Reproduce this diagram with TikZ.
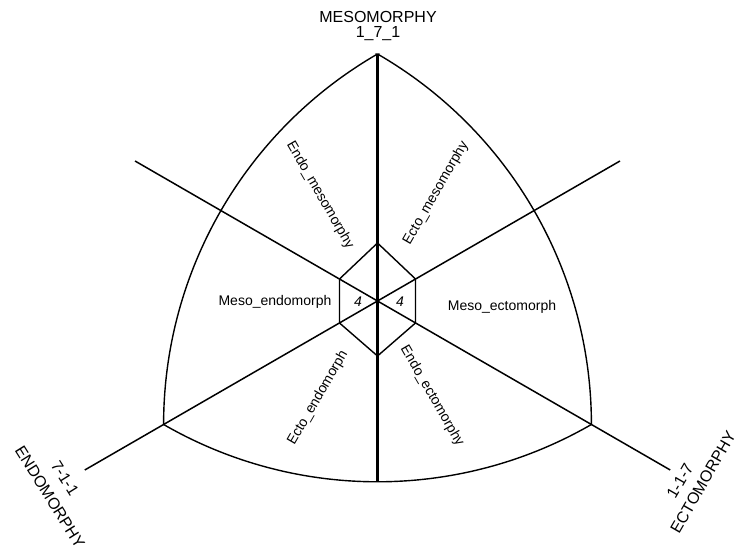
\documentclass[tikz,border=0pt]{standalone}
\usepackage{fontspec}
\setmainfont{Liberation Sans}
\usetikzlibrary{calc}
\begin{document}
\begin{tikzpicture}[x=1pt,y=1pt,
  axis/.style={line width=1.5pt},
  vaxis/.style={line width=2.2pt},
  outline/.style={line width=1.4pt},
  hexline/.style={line width=1.4pt, line join=miter},
  big/.style={font=\fontsize{16}{16}\selectfont, inner sep=0pt},
  small/.style={font=\fontsize{14}{14}\selectfont, inner sep=0pt},
]
\useasboundingbox (0,0) rectangle (739,553);
% geometry
\coordinate (C) at (377.5,252);
\coordinate (T) at ($(C)+(90:247)$);
\coordinate (L) at ($(C)+(210:247)$);
\coordinate (R) at ($(C)+(330:247)$);
\coordinate (B) at ($(T)+(270:427.8)$);
\coordinate (UL) at ($(C)+(150:280)$);
\coordinate (UR) at ($(C)+(30:280)$);
\coordinate (LLx) at ($(C)+(210:338)$);
\coordinate (LRx) at ($(C)+(330:338)$);
% hexagon vertices
\coordinate (h1) at ($(C)+(0,58)$);
\coordinate (h2) at ($(C)+(-38,22)$);
\coordinate (h3) at ($(C)+(-38,-22)$);
\coordinate (h4) at ($(C)+(0,-55)$);
\coordinate (h5) at ($(C)+(38,-22)$);
\coordinate (h6) at ($(C)+(38,22)$);

% Reuleaux outline
\draw[outline] (T) arc[start angle=120, end angle=180, radius=427.8pt]
  arc[start angle=240, end angle=300, radius=427.8pt]
  arc[start angle=0, end angle=60, radius=427.8pt] -- cycle;

% axes
\draw[vaxis] (T) -- (B);
\draw[axis] (UL) -- (C) -- (R) -- (LRx);
\draw[axis] (UR) -- (C) -- (L) -- (LLx);

% hexagon
\draw[hexline] (h1) -- (h2) -- (h3) -- (h4) -- (h5) -- (h6) -- cycle;

% vertex labels
\node[big] (meso) at (378,536) {MESOMORPHY};
\node[big] (mesonum) at (378,519) {1\_7\_1};
\node[big, rotate=-58] (endo) at (50,56) {ENDOMORPHY};
\node[big, rotate=-58] (endonum) at (65,75) {7-1-1};
\node[big, rotate=60] (ecto) at (703,71) {ECTOMORPHY};
\node[big, rotate=60] (ectonum) at (680,72) {1-1-7};

% sector labels
\node[small, rotate=-60] (s1) at (320,358) {Endo\_mesomorphy};
\node[small, rotate=60] (s2) at (436,360) {Ecto\_mesomorphy};
\node[small] (s3) at (275,251) {Meso\_endomorph};
\node[small] (s4) at (502,246) {Meso\_ectomorph};
\node[small, rotate=60] (s5) at (318,155) {Ecto\_endomorph};
\node[small, rotate=-60] (s6) at (432,157) {Endo\_ectomorphy};

% center numbers
\node[small, font=\fontsize{14}{14}\selectfont\itshape] (n1) at (358,251) {4};
\node[small, font=\fontsize{14}{14}\selectfont\itshape] (n2) at (400,251) {4};
\end{tikzpicture}
\end{document}
